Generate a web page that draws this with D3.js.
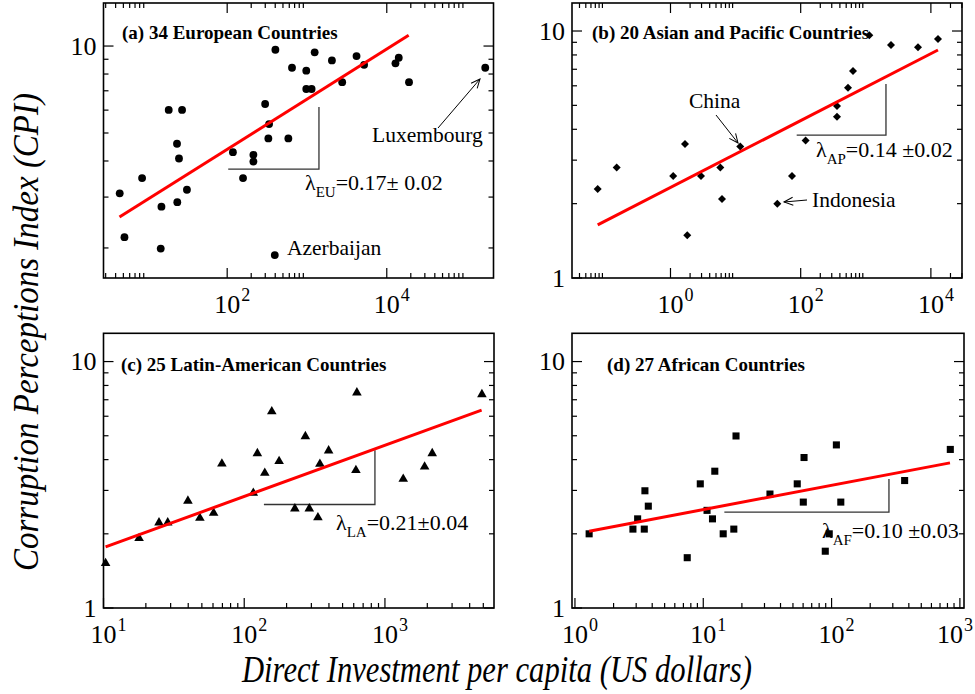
<!DOCTYPE html>
<html><head><meta charset="utf-8">
<script src="https://cdn.jsdelivr.net/npm/d3@7"></script>
<style>body{margin:0;background:#fff}svg{display:block}</style>
</head><body><svg id="c" width="975" height="694"></svg>
<script>
// ---------------- data ----------------
const titles = ["(a) 34 European Countries","(b) 20 Asian and Pacific Countries","(c) 25 Latin-American Countries","(d) 27 African Countries"];
const xAxisTitle = "Direct Investment per capita (US dollars)";
const yAxisTitle = "Corruption Perceptions Index (CPI)";

const euDI  = [4.5,5.16,8.58,15.0,14.7,18.5,27.2,23.5,24.9,23.7,31.3,118,158,213,213,299,335,328,402,395,584,649,980,980,1143,1248,2054,2762,4178,5200,12850,14125,19000,171400];
const euCPI = [3.09,2.18,3.49,2.78,1.99,6.01,6.01,4.59,4.08,2.88,3.18,4.29,3.49,4.20,3.98,6.30,5.37,4.79,9.71,1.89,4.79,8.41,8.22,7.10,7.10,9.51,8.92,7.50,9.23,8.61,8.71,9.11,7.50,8.41];

const apDI  = [0.0762,0.149,1.10,1.67,1.81,2.94,5.82,6.18,11.8,43.7,73.5,119,361,361,533,636,1132,2438,6340,12850];
const apCPI = [2.29,2.80,2.59,3.49,1.49,2.59,2.80,2.09,3.41,2.00,2.59,3.60,4.97,4.50,5.89,6.89,9.61,8.77,8.59,9.28];

const laDI  = [10.35,17.9,24.8,28.6,39.8,48.4,60.6,69.4,116,124,140,157,177,229,272,290,334,345,398,622,632,1349,1914,2168,4886];
const laCPI = [1.52,1.92,2.22,2.22,2.72,2.32,2.43,3.85,2.93,4.24,3.53,6.27,3.94,2.53,4.97,2.53,2.33,3.84,4.35,3.62,7.48,3.34,3.74,4.24,7.36];

const afDI  = [1.29,2.83,3.08,3.47,3.51,3.73,7.50,9.48,10.7,11.8,12.3,14.3,17.3,18.0,33.1,54.0,60.2,61.0,89.3,95.9,109,118,371,842];
const afCPI = [2.00,2.09,2.30,2.09,2.99,2.59,1.60,3.19,2.49,2.30,3.59,2.00,2.09,4.99,2.90,3.19,2.69,4.08,1.70,2.00,4.59,2.69,3.29,4.40];

// power-law fit lines (end points)
const fitEU_DI = [4.47,18800],  fitEU_CPI = [2.56,10.9];
const fitAP_DI = [0.0762,12850], fitAP_CPI = [1.64,8.38];
const fitLA_DI = [10.35,4864],  fitLA_CPI = [1.77,6.35];
const fitAF_DI = [1.29,837],    fitAF_CPI = [2.05,3.88];

// slope triangles: [x0,x1], [y0,y1]
const triEU_DI = [103,1413], triEU_CPI = [3.75,6.15];
const triAP_DI = [86.8,2042], triAP_CPI = [3.79,6.10];
const triLA_DI = [138,849],  triLA_CPI = [2.63,4.37];
const triAF_DI = [14.6,280], triAF_CPI = [2.45,3.34];

// slope labels
const lamSub = ["EU","AP","LA","AF"];
const lamVal = ["=0.17","=0.14","=0.21","=0.10"];
const lamErr = ["\u00B1 0.02"," \u00B10.02","\u00B10.04"," \u00B10.03"];

// ---------------- drawing ----------------
const FONT = "'Liberation Serif','Times New Roman',Times,serif";
const svg = d3.select('#c');
svg.append('rect').attr('width',975).attr('height',694).attr('fill','#fff');

const defs = svg.append('defs');
defs.append('marker').attr('id','arr').attr('viewBox','-10 -6 12 12')
  .attr('refX',0).attr('refY',0).attr('markerWidth',12).attr('markerHeight',12)
  .attr('markerUnits','userSpaceOnUse').attr('orient','auto')
  .append('path').attr('d','M-9,-4 L0,0 L-9,4').attr('fill','none').attr('stroke','#000').attr('stroke-width',1);

const panels = [
 {box:[103.5,3,493.5,278], xd:[Math.pow(10,0.45),Math.pow(10,5.3375)], yd:[Math.pow(10,0.197),Math.pow(10,1.149)], every:2, top:true,
  sym:'circle', xs:euDI, ys:euCPI, fx:fitEU_DI, fy:fitEU_CPI, tx:triEU_DI, ty:triEU_CPI, tpos:[122,39], lpos:[305,190]},
 {box:[572,3,962,278], xd:[Math.pow(10,-1.513),Math.pow(10,4.478)], yd:[1,Math.pow(10,1.1134)], every:2, top:true,
  sym:'diamond', xs:apDI, ys:apCPI, fx:fitAP_DI, fy:fitAP_CPI, tx:triAP_DI, ty:triAP_CPI, tpos:[592,39], lpos:[816,157]},
 {box:[103.5,333.3,494,608], xd:[10,Math.pow(10,3.775)], yd:[1,Math.pow(10,1.1147)], every:1, top:false,
  sym:'triangle', xs:laDI, ys:laCPI, fx:fitLA_DI, fy:fitLA_CPI, tx:triLA_DI, ty:triLA_CPI, tpos:[121,371], lpos:[336,530]},
 {box:[572,333.3,964,608], xd:[Math.pow(10,-0.023),Math.pow(10,3.032)], yd:[1,Math.pow(10,1.1147)], every:1, top:false,
  sym:'square', xs:afDI, ys:afCPI, fx:fitAF_DI, fy:fitAF_CPI, tx:triAF_DI, ty:triAF_CPI, tpos:[607,371], lpos:[822,538]}
];

function logTicks(d, every){
  const lo=Math.log10(d[0]), hi=Math.log10(d[1]);
  const maj=[], min=[];
  for(let e=Math.floor(lo)-1;e<=Math.ceil(hi)+1;e++){
    if(((e%every)+every)%every!==0) continue;
    const v=Math.pow(10,e);
    if(e>=lo-1e-6 && e<=hi+1e-6) maj.push(e);
    for(let k=2;k<=9;k++){const m=k*v; const lm=Math.log10(m); if(lm>lo+1e-6 && lm<hi-1e-6) min.push(m);}
  }
  return {maj,min};
}

const symMap = {circle:d3.symbolCircle, diamond:d3.symbolSquare, triangle:d3.symbolTriangle, square:d3.symbolSquare};
const symSize = {circle:48, diamond:32, triangle:40, square:50};

panels.forEach((p,i)=>{
  const [x0,y0,x1,y1]=p.box;
  const x=d3.scaleLog().domain(p.xd).range([x0,x1]);
  const y=d3.scaleLog().domain(p.yd).range([y1,y0]);
  const g=svg.append('g');
  const MAJ=10, MIN=5;

  // ticks
  const xt=logTicks(p.xd,p.every), yt=logTicks(p.yd,1);
  const tg=g.append('g').attr('stroke','#000').attr('stroke-width',1.2);
  xt.maj.forEach(e=>{const X=x(Math.pow(10,e));
    tg.append('line').attr('x1',X).attr('x2',X).attr('y1',y1).attr('y2',y1-MAJ);
    if(p.top) tg.append('line').attr('x1',X).attr('x2',X).attr('y1',y0).attr('y2',y0+MAJ);});
  xt.min.forEach(v=>{const X=x(v);
    tg.append('line').attr('x1',X).attr('x2',X).attr('y1',y1).attr('y2',y1-MIN);
    if(p.top) tg.append('line').attr('x1',X).attr('x2',X).attr('y1',y0).attr('y2',y0+MIN);});
  yt.maj.forEach(e=>{const Y=y(Math.pow(10,e));
    tg.append('line').attr('x1',x0).attr('x2',x0+MAJ).attr('y1',Y).attr('y2',Y);
    tg.append('line').attr('x1',x1).attr('x2',x1-MAJ).attr('y1',Y).attr('y2',Y);});
  yt.min.forEach(v=>{const Y=y(v);
    tg.append('line').attr('x1',x0).attr('x2',x0+MIN).attr('y1',Y).attr('y2',Y);
    tg.append('line').attr('x1',x1).attr('x2',x1-MIN).attr('y1',Y).attr('y2',Y);});

  // tick labels
  xt.maj.forEach(e=>{const X0=x(Math.pow(10,e));
    const X=X0-Math.max(0,X0+24-974);
    g.append('text').attr('x',X).attr('y',y1+35).attr('text-anchor','middle')
      .attr('font-family',FONT).attr('font-size',26).text('10');
    g.append('text').attr('x',X+14).attr('y',y1+23).attr('text-anchor','start')
      .attr('font-family',FONT).attr('font-size',18).text(String(e));});
  yt.maj.forEach(e=>{const Y=y(Math.pow(10,e));
    g.append('text').attr('x',x0-7).attr('y',Y).attr('dy','0.34em').attr('text-anchor','end')
      .attr('font-family',FONT).attr('font-size',26).text(e===0?'1':'10');});

  // frame
  g.append('rect').attr('x',x0).attr('y',y0).attr('width',x1-x0).attr('height',y1-y0)
    .attr('fill','none').attr('stroke','#000').attr('stroke-width',1.6);

  // title
  g.append('text').attr('x',p.tpos[0]).attr('y',p.tpos[1]).attr('font-family',FONT)
    .attr('font-weight','bold').attr('font-size',19).text(titles[i]);

  // slope triangle
  g.append('path').attr('d',`M${x(p.tx[0])},${y(p.ty[0])}H${x(p.tx[1])}V${y(p.ty[1])}`)
    .attr('fill','none').attr('stroke','#333').attr('stroke-width',1.3);

  // markers
  const sym=d3.symbol().type(symMap[p.sym]).size(symSize[p.sym]);
  g.append('g').selectAll('path').data(p.xs.map((v,k)=>[v,p.ys[k]])).join('path')
    .attr('d',sym).attr('fill','#000')
    .attr('transform',d=>`translate(${x(d[0])},${y(d[1])})`+(p.sym==='diamond'?' rotate(45)':''));

  // fit line
  g.append('path').attr('d',d3.line().x(d=>x(d[0])).y(d=>y(d[1]))(p.fx.map((v,k)=>[v,p.fy[k]])))
    .attr('fill','none').attr('stroke','#ff0000').attr('stroke-width',3);

  // slope label
  const t=g.append('text').attr('x',p.lpos[0]).attr('y',p.lpos[1]).attr('font-family',FONT).attr('font-size',22);
  t.append('tspan').text('\u03BB');
  t.append('tspan').attr('font-size',15).attr('dy',7).text(lamSub[i]);
  t.append('tspan').attr('dy',-7).text(lamVal[i]);
  t.append('tspan').text(lamErr[i]);
});

// annotations
function note(txt,xx,yy){svg.append('text').attr('x',xx).attr('y',yy).attr('font-family',FONT).attr('font-size',21.5).text(txt);}
function arrow(ax,ay,bx,by){svg.append('line').attr('x1',ax).attr('y1',ay).attr('x2',bx).attr('y2',by)
  .attr('stroke','#000').attr('stroke-width',1).attr('marker-end','url(#arr)');}
note('Luxembourg',372,142); arrow(438,128,480,79);
note('Azerbaijan',287,255);
note('China',689,108); arrow(716,115,738,143);
note('Indonesia',812,207); arrow(807,200,784,202);

// axis titles
svg.append('text').attr('x',497).attr('y',682).attr('text-anchor','middle').attr('font-family',FONT)
  .attr('font-style','italic').attr('font-size',38).attr('textLength',510).attr('lengthAdjust','spacingAndGlyphs').text(xAxisTitle);
svg.append('text').attr('transform','translate(38,332) rotate(-90)').attr('text-anchor','middle').attr('font-family',FONT)
  .attr('font-style','italic').attr('font-size',36).attr('textLength',478).attr('lengthAdjust','spacingAndGlyphs').text(yAxisTitle);
</script></body></html>
